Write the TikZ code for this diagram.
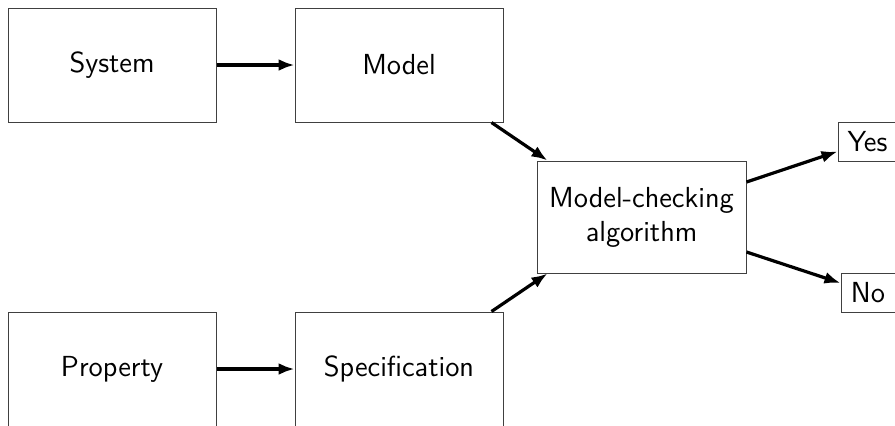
\documentclass[tikz,border=0pt]{standalone}
\usepackage{tikz}
\usetikzlibrary{arrows.meta}

\tikzset{
    stage/.style={draw=black!75, line width=0.5pt, fill=white,
        minimum width=104pt, minimum height=57pt, inner sep=2pt,
        font=\fontsize{14.5}{17}\selectfont\sffamily, align=center},
    answer/.style={draw=black!75, line width=0.5pt, fill=white,
        minimum height=19.5pt, inner sep=2pt,
        font=\fontsize{14.5}{17}\selectfont\sffamily},
    flow/.style={line width=1.6pt, -{Latex[length=8pt,width=6pt]}}
}

\begin{document}
\begin{tikzpicture}[x=0.5pt,y=-0.5pt]
    \clip (0,0) rectangle (895,425);
    \useasboundingbox (0,0) rectangle (895,425);

    % top row
    \node[stage] (system) at (112,65) {System};
    \node[stage] (model) at (399,65) {Model};

    % bottom row
    \node[stage] (property) at (112,369) {Property};
    \node[stage] (spec) at (399,369) {Specification};

    % checker
    \node[stage, minimum width=104.5pt, minimum height=56pt] (checker) at (641.5,217) {Model-checking\\algorithm};

    % outcomes
    \node[answer, minimum width=29.5pt] (yes) at (867.5,141.5) {Yes};
    \node[answer, minimum width=27pt] (no) at (868,292.5) {No};

    % arrows
    \draw[flow] (system) -- (model);
    \draw[flow] (property) -- (spec);
    \draw[flow] ([xshift=-6pt]model.south east) -- ([xshift=5.5pt]checker.north west);
    \draw[flow] ([xshift=-6pt]spec.north east) -- ([xshift=5.5pt]checker.south west);
    \draw[flow] ([yshift=17.5pt]checker.east) -- ([yshift=-5pt]yes.west);
    \draw[flow] ([yshift=-17.5pt]checker.east) -- ([yshift=4.75pt]no.west);
\end{tikzpicture}
\end{document}
